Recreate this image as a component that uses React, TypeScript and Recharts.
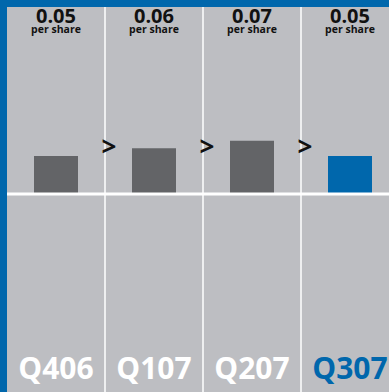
import { BarChart, Bar, XAxis, YAxis, CartesianGrid, ReferenceLine, LabelList, Cell } from "recharts"

const quarters = ["Q406", "Q107", "Q207", "Q307"]
const eps = [0.05, 0.06, 0.07, 0.05]
const arrows = ["", ">", ">", ">"]
const current = "Q307"

const BLUE = "#0067ac"
const GRAY_BG = "#bdbec2"
const BAR = "#636467"
const FONT = "'Open Sans', sans-serif"

const data = quarters.map((q, i) => ({ q, eps: eps[i], arrow: arrows[i] }))

// white separators between the quarter columns
const columnEdges = ({ offset }: any) =>
  quarters.slice(1).map((_, i) => offset.left + (offset.width * (i + 1)) / quarters.length)

const TopTick = (props: any) => {
  const { x, y, payload } = props
  const v = eps[payload.index]
  return (
    <g fontFamily={FONT} fontWeight={700} fill="#111" textAnchor="middle">
      <text x={x} y={y + 16} fontSize={20}>{v.toFixed(2)}</text>
      <text x={x} y={y + 26} fontSize={10.5}>per share</text>
    </g>
  )
}

const BottomTick = (props: any) => {
  const { x, y, payload } = props
  return (
    <text x={x} y={y - 15} textAnchor="middle" fontFamily={FONT} fontWeight={700} fontSize={30}
      fill={payload.value === current ? BLUE : "#ffffff"}>
      {payload.value}
    </text>
  )
}

const Arrow = (props: any) => {
  const { x, y, height, value } = props
  if (!value) return null
  return (
    <text x={x - 23} y={y + height - 38} textAnchor="middle" fontFamily={FONT} fontWeight={700} fontSize={26} fill="#111">
      {value}
    </text>
  )
}

export default function App() {
  return (
    <div style={{
      position: "absolute", left: 0, top: 0, width: 382, height: 385, overflow: "hidden",
      background: GRAY_BG, borderLeft: `7px solid ${BLUE}`, borderTop: `7px solid ${BLUE}`,
    }}>
      <BarChart width={392} height={387} data={data} margin={{ top: -1, right: 0, bottom: -1, left: 0 }}>
        <CartesianGrid horizontal={false} verticalCoordinatesGenerator={columnEdges} stroke="#ffffff" strokeWidth={1.5} />
        <XAxis dataKey="q" axisLine={false} tickLine={false} tickSize={0} tickMargin={0} height={1} tick={<BottomTick />} interval={0} />
        <XAxis xAxisId="top" orientation="top" dataKey="q" axisLine={false} tickLine={false} tickSize={0} tickMargin={0} height={1} tick={<TopTick />} interval={0} />
        <YAxis hide domain={[-0.2629, 0.2457]} allowDataOverflow />
        <ReferenceLine y={0} stroke="#ffffff" strokeWidth={3} />
        <Bar dataKey="eps" barSize={44} isAnimationActive={false}>
          {data.map(d => (
            <Cell key={d.q} fill={d.q === current ? BLUE : BAR} />
          ))}
          <LabelList dataKey="arrow" content={<Arrow />} />
        </Bar>
      </BarChart>
    </div>
  )
}
